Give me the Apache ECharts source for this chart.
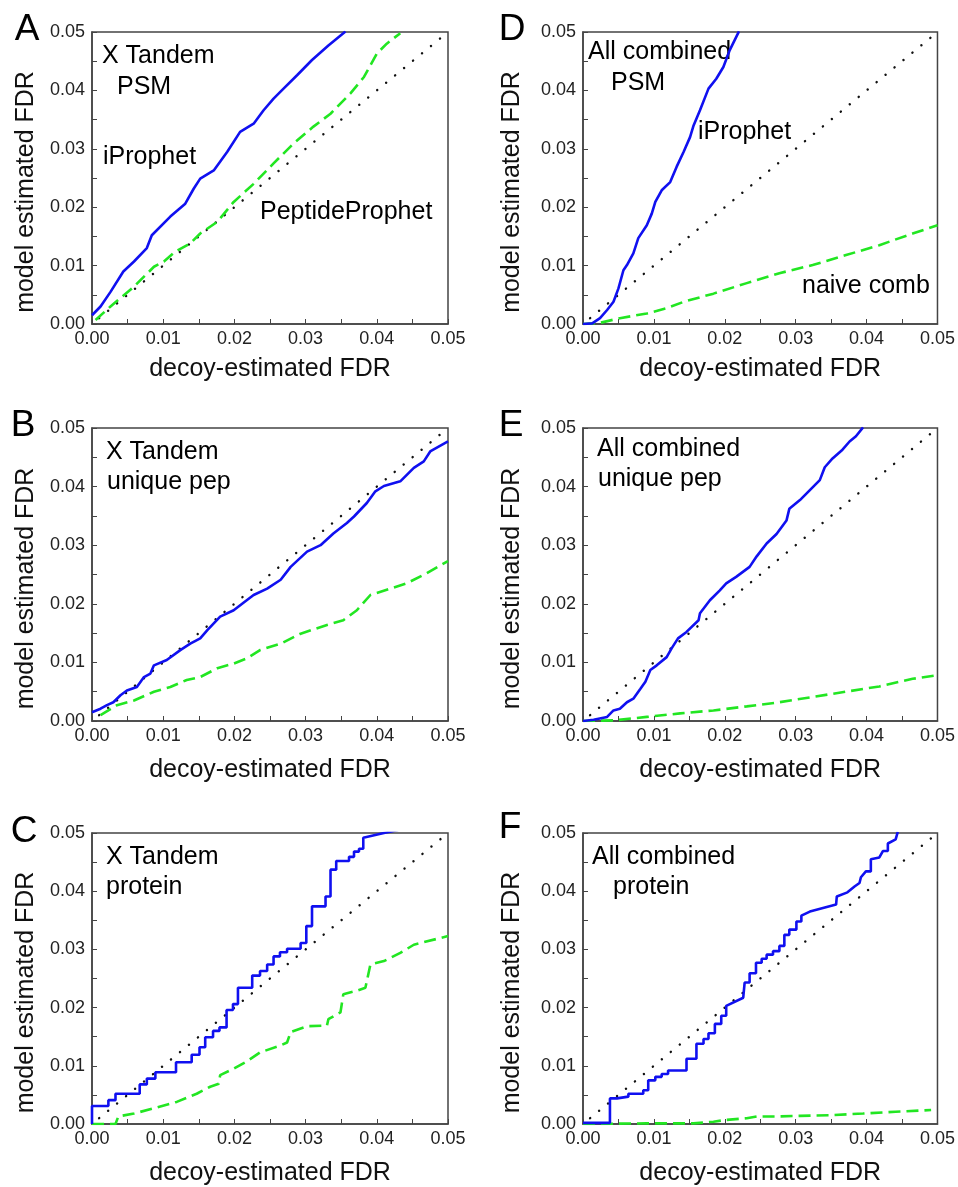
<!DOCTYPE html>
<html>
<head>
<meta charset="utf-8">
<script src="https://cdn.jsdelivr.net/npm/echarts@6/dist/echarts.min.js"></script>
<style>
html, body { margin: 0; padding: 0; background: #fff; }
#container { width: 958px; height: 1187px; }
</style>
</head>
<body>
<div id="container"></div>
<script>
var dom = document.getElementById("container");
var myChart = echarts.init(dom);

// axis range shared by all six panels
var axisMin = 0, axisMax = 0.05, axisStep = 0.01;
var panelLetters = ['A', 'B', 'C', 'D', 'E', 'F'];
var xTitle = 'decoy-estimated FDR';
var yTitle = 'model estimated FDR';

// y = x reference
var diagonal = [[0.001, 0.001], [0.05, 0.05]];

// A: X Tandem PSM
var aIProphet = [[0,0.0015],[0.0012,0.003],[0.0026,0.0055],[0.0044,0.009],[0.0059,0.0107],[0.0077,0.013],[0.0084,0.0152],[0.011,0.0184],[0.0131,0.0206],[0.0143,0.0232],[0.0152,0.0249],[0.0171,0.0263],[0.019,0.0295],[0.0208,0.0329],[0.0227,0.0343],[0.0241,0.0366],[0.0255,0.0386],[0.0269,0.0403],[0.0288,0.0426],[0.0309,0.0452],[0.0332,0.0477],[0.0356,0.0501]];
var aPeptide = [[0.0005,0.0007],[0.0026,0.003],[0.0059,0.0064],[0.0087,0.0098],[0.0101,0.0107],[0.0117,0.0124],[0.0138,0.0138],[0.0152,0.0155],[0.0176,0.0175],[0.0199,0.0209],[0.0227,0.024],[0.0255,0.0275],[0.0283,0.0309],[0.0311,0.0338],[0.0335,0.036],[0.0363,0.0395],[0.0382,0.0423],[0.04,0.0463],[0.0414,0.048],[0.0433,0.0498]];

// B: X Tandem unique pep
var bIProphet = [[0,0.0015],[0.0012,0.0021],[0.0021,0.0027],[0.003,0.0032],[0.004,0.0044],[0.0049,0.0052],[0.0063,0.0058],[0.0073,0.0075],[0.0082,0.0081],[0.0087,0.0095],[0.0105,0.0104],[0.0124,0.0121],[0.0138,0.0132],[0.0152,0.0141],[0.0162,0.0155],[0.018,0.0178],[0.0199,0.0189],[0.0215,0.0204],[0.0227,0.0215],[0.0246,0.0226],[0.0265,0.0241],[0.0279,0.0263],[0.0302,0.0289],[0.0321,0.03],[0.0339,0.032],[0.0358,0.0338],[0.0368,0.0349],[0.0386,0.0372],[0.0398,0.0392],[0.041,0.0401],[0.0433,0.0409],[0.0452,0.0432],[0.0466,0.0443],[0.0475,0.046],[0.05,0.0477]];
var bPeptide = [[0.0012,0.001],[0.0035,0.0027],[0.0059,0.0035],[0.0087,0.005],[0.011,0.0058],[0.0133,0.007],[0.0152,0.0075],[0.0176,0.009],[0.0199,0.0098],[0.0218,0.0107],[0.0236,0.0121],[0.0265,0.0132],[0.0293,0.0149],[0.033,0.0164],[0.0353,0.0172],[0.0372,0.0189],[0.0391,0.0215],[0.0414,0.0224],[0.0442,0.0235],[0.047,0.0252],[0.05,0.0273]];

// C: X Tandem protein
var cIProphet = [[0,0],[0,0.0031],[0.0023,0.0031],[0.0023,0.0041],[0.0033,0.0041],[0.0033,0.0052],[0.0067,0.0052],[0.0067,0.0068],[0.0077,0.0068],[0.0077,0.0078],[0.0089,0.0078],[0.0089,0.0089],[0.0118,0.0089],[0.0118,0.0106],[0.014,0.0106],[0.014,0.0119],[0.0151,0.0119],[0.0151,0.0132],[0.0159,0.0132],[0.0159,0.0149],[0.017,0.0149],[0.017,0.016],[0.0179,0.016],[0.0179,0.0166],[0.0189,0.0166],[0.0189,0.0196],[0.0198,0.0196],[0.0198,0.0206],[0.0205,0.0206],[0.0205,0.0234],[0.0225,0.0234],[0.0225,0.0255],[0.0236,0.0255],[0.0236,0.0263],[0.0246,0.0263],[0.0246,0.0274],[0.0255,0.0274],[0.0255,0.0288],[0.0264,0.0288],[0.0264,0.0295],[0.0274,0.0295],[0.0274,0.0301],[0.0293,0.0301],[0.0293,0.0311],[0.0301,0.0311],[0.0301,0.034],[0.0309,0.034],[0.0309,0.0374],[0.0328,0.0374],[0.0328,0.0391],[0.0335,0.0391],[0.0335,0.0437],[0.0343,0.0437],[0.0343,0.0452],[0.0361,0.0452],[0.0361,0.0459],[0.0368,0.0459],[0.0368,0.0468],[0.0375,0.0468],[0.0375,0.0473],[0.0381,0.0473],[0.0381,0.0492],[0.041,0.05],[0.043,0.0505]];
var cPeptide = [[0,0],[0.0033,0],[0.0037,0.0013],[0.0059,0.0018],[0.0087,0.0027],[0.0119,0.0038],[0.0147,0.0052],[0.0166,0.0064],[0.0178,0.0069],[0.018,0.0084],[0.0199,0.0095],[0.0218,0.0108],[0.0236,0.0123],[0.0265,0.0135],[0.0274,0.014],[0.0279,0.0158],[0.0302,0.0168],[0.033,0.0169],[0.0332,0.018],[0.0349,0.0192],[0.0353,0.0223],[0.0372,0.0229],[0.0384,0.0234],[0.0391,0.0274],[0.041,0.028],[0.0433,0.0294],[0.0452,0.0308],[0.05,0.0323]];

// D: All combined PSM
var dIProphet = [[0,0],[0.0013,0.0001],[0.0024,0.001],[0.0034,0.0024],[0.0043,0.0038],[0.005,0.0061],[0.0057,0.0092],[0.0062,0.0101],[0.0071,0.0121],[0.0078,0.0147],[0.009,0.0169],[0.0097,0.0189],[0.0102,0.0209],[0.0111,0.0229],[0.0123,0.0243],[0.0132,0.0269],[0.0142,0.0295],[0.0151,0.032],[0.0156,0.034],[0.0165,0.0366],[0.0177,0.0403],[0.0188,0.042],[0.0198,0.044],[0.0207,0.0469],[0.022,0.0501]];
var dNaive = [[0,0],[0.0024,0.0002],[0.0052,0.001],[0.009,0.0018],[0.0118,0.0027],[0.0142,0.0038],[0.0184,0.0052],[0.0231,0.007],[0.0277,0.0087],[0.0324,0.0101],[0.0371,0.0118],[0.0418,0.0135],[0.0465,0.0155],[0.05,0.0169]];

// E: All combined unique pep
var eIProphet = [[0,0],[0.0015,0.0002],[0.0034,0.0007],[0.0043,0.0018],[0.0052,0.0021],[0.0062,0.0032],[0.0071,0.0038],[0.0081,0.0055],[0.0088,0.0067],[0.0095,0.0087],[0.0104,0.0095],[0.0118,0.0109],[0.0125,0.0124],[0.0134,0.0141],[0.0146,0.0152],[0.0163,0.0172],[0.0165,0.0184],[0.0179,0.0206],[0.0193,0.0223],[0.0202,0.0235],[0.0216,0.0246],[0.0235,0.0263],[0.0245,0.0281],[0.0259,0.0303],[0.0273,0.0319],[0.0287,0.0342],[0.0291,0.0362],[0.0306,0.0377],[0.032,0.0394],[0.0334,0.0411],[0.0341,0.0433],[0.0352,0.0448],[0.0366,0.0463],[0.0376,0.0477],[0.0385,0.0486],[0.0395,0.0501]];
var eNaive = [[0,0],[0.0043,0.0001],[0.009,0.0007],[0.0137,0.0013],[0.0184,0.0018],[0.0231,0.0025],[0.0277,0.0032],[0.0324,0.0041],[0.0371,0.005],[0.0418,0.0059],[0.0465,0.0072],[0.05,0.0078]];

// F: All combined protein
var fIProphet = [[0,0.0002],[0.0038,0.0002],[0.0038,0.0044],[0.0048,0.0044],[0.0048,0.0047],[0.0064,0.0047],[0.0064,0.0052],[0.0085,0.0052],[0.0085,0.0058],[0.0092,0.0058],[0.0092,0.0075],[0.0102,0.0075],[0.0102,0.0081],[0.0111,0.0081],[0.0111,0.0086],[0.012,0.0086],[0.012,0.0092],[0.0146,0.0092],[0.0146,0.0112],[0.016,0.0112],[0.016,0.0138],[0.017,0.0138],[0.017,0.0146],[0.0177,0.0146],[0.0177,0.0156],[0.0186,0.0156],[0.0186,0.0172],[0.0195,0.0172],[0.0195,0.0186],[0.0202,0.0186],[0.0202,0.0203],[0.0226,0.0217],[0.0228,0.0217],[0.0228,0.0243],[0.0235,0.0243],[0.0235,0.0259],[0.0244,0.0259],[0.0244,0.0277],[0.0252,0.0277],[0.0252,0.0284],[0.0259,0.0284],[0.0259,0.0291],[0.0268,0.0291],[0.0268,0.0297],[0.0277,0.0297],[0.0277,0.0306],[0.0284,0.0306],[0.0284,0.0325],[0.0291,0.0325],[0.0291,0.0334],[0.0301,0.0334],[0.0301,0.0348],[0.0308,0.0348],[0.0308,0.0358],[0.032,0.0365],[0.0357,0.0377],[0.0358,0.0391],[0.0373,0.0398],[0.0383,0.0408],[0.039,0.0414],[0.0392,0.0424],[0.0399,0.0434],[0.0406,0.0434],[0.0406,0.0455],[0.0418,0.0458],[0.0423,0.0469],[0.043,0.0469],[0.043,0.0482],[0.0441,0.0489],[0.0444,0.0502]];
var fNaive = [[0,0],[0.009,0.0001],[0.0156,0.0001],[0.0184,0.0004],[0.0202,0.0007],[0.0231,0.001],[0.0245,0.0013],[0.0277,0.0013],[0.0306,0.0014],[0.0348,0.0015],[0.0395,0.0018],[0.0441,0.0021],[0.0491,0.0024]];

var blueSets = [aIProphet, bIProphet, cIProphet, dIProphet, eIProphet, fIProphet];
var greenSets = [aPeptide, bPeptide, cPeptide, dNaive, eNaive, fNaive];

// annotation texts per panel
var notes = [
    [['X Tandem', 102, 56], ['PSM', 117, 87], ['iProphet', 103, 157], ['PeptideProphet', 260, 212]],
    [['X Tandem', 106, 452], ['unique pep', 107, 482]],
    [['X Tandem', 106, 857], ['protein', 106, 887]],
    [['All combined', 588, 52], ['PSM', 611, 83], ['iProphet', 698, 132], ['naive comb', 802, 286]],
    [['All combined', 597, 449], ['unique pep', 598, 479]],
    [['All combined', 592, 857], ['protein', 613, 887]]
];
var letterPos = [[27, 30], [23, 426], [24, 832], [512, 30], [511, 426], [510, 828]];

// panel boxes (px)
var boxes = [
    {left: 92, top: 32, width: 356, height: 292},
    {left: 92, top: 428, width: 356, height: 293},
    {left: 92, top: 833, width: 356, height: 293},
    {left: 583, top: 32, width: 355, height: 292},
    {left: 583, top: 428, width: 355, height: 293},
    {left: 583, top: 833, width: 355, height: 293}
];

var fontFam = '"Liberation Sans", Arial, sans-serif';
var frameColor = '#444';

var grids = [], xAxes = [], yAxes = [], series = [], graphics = [];

function axisCommon() {
    return {
        type: 'value',
        min: axisMin,
        max: axisMax,
        interval: axisStep,
        splitLine: {show: false},
        axisLine: {show: true, lineStyle: {color: frameColor, width: 1.5}},
        axisTick: {show: true, inside: true, length: 5, lineStyle: {color: frameColor, width: 1}},
        minorTick: {show: true, splitNumber: 2, length: 5, lineStyle: {color: frameColor, width: 1}},
        axisLabel: {
            color: '#222',
            fontSize: 18,
            fontFamily: fontFam,
            formatter: function (v) { return v.toFixed(2); }
        },
        nameTextStyle: {color: '#111', fontSize: 25, fontFamily: fontFam},
        nameLocation: 'middle'
    };
}

for (var i = 0; i < 6; i++) {
    var b = boxes[i];
    grids.push({
        left: b.left, top: b.top, width: b.width, height: b.height,
        show: true, borderColor: frameColor, borderWidth: 1.5,
        backgroundColor: 'transparent'
    });
    var xa = axisCommon();
    xa.gridIndex = i;
    xa.name = xTitle;
    xa.nameGap = (i % 3 === 0) ? 33 : 37;
    xa.axisLabel.margin = 6;
    xAxes.push(xa);
    var ya = axisCommon();
    ya.gridIndex = i;
    ya.name = yTitle;
    ya.nameGap = (i < 3) ? 53 : 58;
    ya.nameTextStyle.padding = [0, 28, 0, 0];
    ya.axisLabel.margin = 7;
    yAxes.push(ya);

    series.push({
        type: 'line', xAxisIndex: i, yAxisIndex: i,
        data: diagonal, showSymbol: false, silent: true, z: 2,
        lineStyle: {color: '#111', width: 2.4, type: [0.1, 11.5], cap: 'round'}
    });
    series.push({
        type: 'line', xAxisIndex: i, yAxisIndex: i,
        data: greenSets[i], showSymbol: false, silent: true, z: 3,
        lineStyle: {color: '#22e622', width: 2.6, type: [12, 6]}
    });
    series.push({
        type: 'line', xAxisIndex: i, yAxisIndex: i,
        data: blueSets[i], showSymbol: false, silent: true, z: 4,
        lineStyle: {color: '#1010f0', width: 2.6}
    });

    graphics.push({
        type: 'text', x: letterPos[i][0], y: letterPos[i][1],
        style: {text: panelLetters[i], font: '37px ' + fontFam, fill: '#000', align: 'center', verticalAlign: 'middle'}
    });
    notes[i].forEach(function (n) {
        graphics.push({
            type: 'text', x: n[1], y: n[2],
            style: {text: n[0], font: '25px ' + fontFam, fill: '#000', align: 'left', verticalAlign: 'middle'}
        });
    });
}

var option = {
    backgroundColor: '#fff',
    animation: false,
    grid: grids,
    xAxis: xAxes,
    yAxis: yAxes,
    series: series,
    graphic: graphics
};

if (option && typeof option === "object") {
    myChart.setOption(option, true);
}
</script>
</body>
</html>
